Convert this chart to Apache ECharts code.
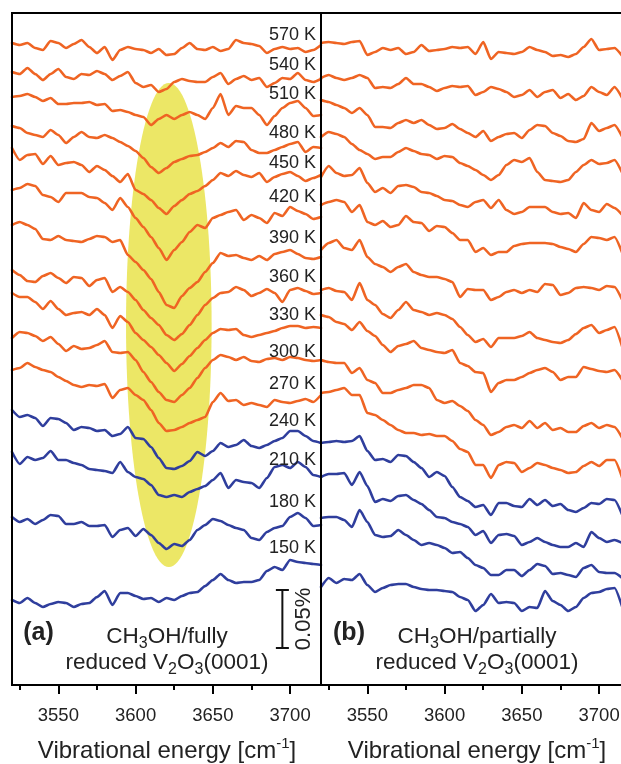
<!DOCTYPE html>
<html>
<head>
<meta charset="utf-8">
<script src="https://cdn.jsdelivr.net/npm/echarts@6/dist/echarts.min.js"></script>
<style>html,body{margin:0;padding:0;background:#fff}#c{width:621px;height:764px}</style>
</head>
<body>
<div id="c"></div>
<script>
// ---------- DATA ----------
// wavenumber sampling (cm^-1)
const wavenumbers = [3520,3525,3530,3535,3540,3545,3550,3555,3560,3565,3570,3575,3580,3585,3590,3595,3600,3605,3610,3615,3620,3625,3630,3635,3640,3645,3650,3655,3660,3665,3670,3675,3680,3685,3690,3695,3700,3705,3710,3715,3720];
const temperatures = ['570 K','540 K','510 K','480 K','450 K','420 K','390 K','360 K','330 K','300 K','270 K','240 K','210 K','180 K','150 K'];
const tempValues = [570,540,510,480,450,420,390,360,330,300,270,240,210,180,150];
// tick labels
const tickLabels = [3550,3600,3650,3700];

// panel (a): CH3OH / fully reduced V2O3(0001) – stacked signal (a.u., 58 a.u. = 0.05 %)
const a570 = [642,640,642,637,635,644,642,637,641,645,638,632,638,625,635,638,636,635,632,636,630,631,637,642,636,635,638,634,636,645,642,641,639,632,636,638,636,637,633,635,640];
const a540 = [613,611,617,611,605,611,616,608,606,611,610,614,611,605,609,613,602,598,600,593,596,603,606,604,603,603,608,612,601,606,609,605,607,598,602,607,606,612,605,603,606];
const a510 = [588,589,591,588,584,587,581,581,582,582,583,580,581,574,575,573,570,568,560,566,570,566,570,573,570,566,577,591,570,579,577,577,570,560,569,577,582,584,577,569,570];
const a480 = [559,557,552,550,548,555,550,542,548,553,548,547,550,547,543,539,534,527,518,512,517,523,526,529,530,533,537,542,538,544,543,535,532,532,535,538,541,543,533,538,537];
const a450 = [537,525,530,531,521,529,520,522,523,520,513,519,515,509,503,511,495,491,485,477,471,479,485,491,494,499,505,512,509,514,510,508,512,503,508,511,513,509,504,507,510];
const a420 = [495,497,501,499,490,488,483,492,492,492,488,487,482,475,487,478,467,458,448,437,425,435,443,453,460,457,467,470,473,475,465,470,467,462,472,469,478,474,471,466,468];
const a390 = [460,463,460,456,446,445,449,445,444,443,446,449,448,443,445,430,423,415,406,393,380,377,389,397,403,413,422,432,429,430,427,425,429,425,431,433,435,431,427,426,428];
const a360 = [415,410,404,403,409,412,407,402,408,407,399,405,407,393,398,393,385,375,367,360,350,345,351,360,370,380,387,392,393,398,395,389,392,396,392,383,395,397,394,391,392];
const a330 = [392,388,388,383,376,384,376,370,372,373,370,376,370,357,369,363,352,345,338,330,322,314,321,329,337,345,352,356,355,356,350,348,350,352,354,357,359,359,357,358,357];
const a300 = [347,353,352,349,344,348,341,334,339,336,337,340,344,333,332,333,325,313,303,293,285,283,290,297,307,317,325,330,328,325,328,324,323,326,327,325,328,327,325,324,325];
const a270 = [315,317,322,318,315,313,308,304,300,298,300,299,301,287,295,297,290,285,275,262,254,255,258,262,265,268,283,292,284,285,280,282,280,278,285,283,282,284,286,283,290];
const a240 = [275,268,270,267,259,267,266,262,255,258,257,254,255,249,251,258,247,246,238,227,217,216,219,224,233,229,234,242,238,240,245,239,237,240,244,247,254,254,249,244,242];
const a210 = [233,221,228,225,227,234,225,225,222,220,216,215,214,212,223,213,208,206,200,190,188,190,188,193,196,199,205,212,197,205,203,202,197,207,218,220,217,223,218,210,208];
const a180 = [168,163,166,161,165,170,169,161,161,163,159,159,160,148,155,157,149,156,150,142,136,141,139,145,155,160,166,164,160,157,155,147,145,153,157,159,168,172,167,159,160];
const a150 = [85,82,87,82,78,81,83,82,78,81,82,88,94,80,92,92,89,86,87,83,87,85,89,92,93,99,105,111,105,102,103,103,105,114,118,115,125,123,122,121,120];

// panel (b): CH3OH / partially reduced V2O3(0001)
const b570 = [642,643,642,641,643,644,630,633,637,635,637,631,633,640,634,635,636,638,637,638,631,643,626,633,632,631,633,638,635,633,629,630,628,631,638,646,635,636,637,629];
const b540 = [607,610,607,605,607,610,607,597,598,597,601,607,601,601,598,594,597,599,598,599,590,593,598,596,593,588,590,595,588,593,595,587,591,585,589,598,593,590,598,587];
const b510 = [585,583,580,577,572,577,570,558,558,557,562,565,562,565,560,556,557,561,556,552,548,554,544,548,551,552,547,555,560,559,552,549,544,543,546,562,554,557,560,548];
const b480 = [548,553,551,548,541,535,531,526,528,528,533,537,534,531,530,526,529,528,522,519,515,510,505,510,520,525,523,527,513,505,504,503,505,513,520,525,521,522,525,512];
const b450 = [508,519,512,509,510,517,502,493,497,492,499,500,498,493,492,489,485,484,480,478,483,485,477,485,475,471,473,478,478,478,473,471,472,467,482,475,473,481,477,470];
const b420 = [480,483,485,483,473,480,463,460,464,458,460,469,463,462,454,459,458,452,445,445,433,437,430,433,433,439,441,442,442,442,441,438,436,433,441,448,447,445,448,432];
const b390 = [435,442,445,437,435,445,428,421,418,413,418,421,413,410,408,408,406,403,388,396,395,395,385,388,393,395,392,395,393,401,400,390,392,397,398,397,395,399,398,385];
const b360 = [395,397,394,393,385,402,385,380,371,367,375,383,375,373,370,372,370,366,358,350,343,346,338,347,347,347,349,353,347,345,343,342,345,351,357,360,352,355,358,338];
const b330 = [370,368,363,361,355,363,354,349,340,333,339,341,344,337,335,333,332,335,322,319,313,312,293,302,305,305,308,312,315,317,313,305,308,308,318,316,314,313,315,305];
const b300 = [325,323,322,322,312,317,305,302,292,292,295,297,300,300,297,285,282,284,279,274,265,260,250,253,258,260,257,264,257,262,255,257,253,253,259,262,257,260,258,247];
const b270 = [292,293,295,297,290,290,272,270,265,260,255,252,252,250,251,249,249,244,236,233,220,220,207,220,223,222,213,217,222,220,217,215,212,213,219,223,219,225,225,207];
const b240 = [242,243,244,243,244,249,234,225,226,223,230,229,223,217,208,213,209,198,188,184,178,180,170,182,182,179,178,186,180,185,179,181,175,173,177,182,181,186,185,170];
const b210 = [208,211,211,212,200,213,199,183,186,184,189,190,185,181,175,168,167,163,161,158,150,154,142,150,151,149,140,143,147,143,140,138,138,142,138,153,147,143,145,142];
const b180 = [167,168,168,165,158,175,163,150,148,149,155,150,145,140,142,140,137,132,133,127,120,117,110,110,115,115,109,115,121,119,111,112,110,108,117,120,113,112,112,107];
const b150 = [98,107,102,106,105,111,100,93,97,100,101,101,98,96,95,95,94,93,88,85,74,80,91,82,83,82,74,78,77,94,84,80,74,78,87,92,93,96,97,78];

// highlighted band (panel a): centre [cm^-1, a.u.] and half-axes
const bandCenter = [3621.5, 360];
const bandHalfAxes = [27.7, 242];
// scale bar: 0.05 % = 58 a.u.
const scaleBar = [3695, 37, 95];

// ---------- CHART ----------
const FONT = '"Liberation Sans", Arial, Helvetica, sans-serif';
const ORANGE = '#EF6423';
const BLUE = '#2F3E9D';
const TXT = '#222';
const PX = 309 / 200; // px per cm^-1

const seriesA = [a570,a540,a510,a480,a450,a420,a390,a360,a330,a300,a270,a240,a210,a180,a150];
const seriesB = [b570,b540,b510,b480,b450,b420,b390,b360,b330,b300,b270,b240,b210,b180,b150];

function lineSeries(arr, idx, gi) {
  return {
    type: 'line', xAxisIndex: gi, yAxisIndex: gi, z: 3,
    name: temperatures[idx],
    data: arr.map((v, i) => [wavenumbers[i], v]),
    showSymbol: false, symbol: 'none', silent: true, smooth: 0.2, smoothMonotone: 'x',
    lineStyle: { width: 2.6, color: tempValues[idx] >= 270 ? ORANGE : BLUE, join: 'round', cap: 'round' },
    itemStyle: { color: tempValues[idx] >= 270 ? ORANGE : BLUE }
  };
}

const series = [];
series.push({
  type: 'custom', xAxisIndex: 0, yAxisIndex: 0, z: 1, silent: true,
  data: [[bandCenter[0], bandCenter[1], bandHalfAxes[0], bandHalfAxes[1]]],
  encode: { x: 0, y: 1 },
  renderItem: function (params, api) {
    const c = api.coord([api.value(0), api.value(1)]);
    const e = api.coord([api.value(0) + api.value(2), api.value(1) + api.value(3)]);
    const rx = Math.abs(e[0] - c[0]), ry = Math.abs(e[1] - c[1]);
    const pts = [];
    for (let i = 0; i < 120; i++) {
      const t = i / 120 * Math.PI * 2;
      pts.push([c[0] + rx * Math.cos(t), c[1] + ry * Math.sin(t)]);
    }
    return { type: 'polygon', shape: { points: pts }, style: { fill: '#ECE766', stroke: null } };
  }
});
seriesA.forEach((arr, i) => series.push(lineSeries(arr, i, 0)));
seriesB.forEach((arr, i) => series.push(lineSeries(arr, i, 1)));
series.push({
  type: 'custom', xAxisIndex: 0, yAxisIndex: 0, z: 4, silent: true,
  data: [scaleBar], encode: { x: 0, y: [1, 2] },
  renderItem: function (params, api) {
    const p1 = api.coord([api.value(0), api.value(1)]);
    const p2 = api.coord([api.value(0), api.value(2)]);
    const st = { stroke: '#111', lineWidth: 2 };
    return { type: 'group', children: [
      { type: 'line', shape: { x1: p1[0], y1: p1[1], x2: p2[0], y2: p2[1] }, style: st },
      { type: 'line', shape: { x1: p1[0] - 6.5, y1: p1[1], x2: p1[0] + 6.5, y2: p1[1] }, style: st },
      { type: 'line', shape: { x1: p2[0] - 6.5, y1: p2[1], x2: p2[0] + 6.5, y2: p2[1] }, style: st }
    ]};
  }
});

function xAxis(gi) {
  return {
    gridIndex: gi, type: 'value', min: 3500, max: 3750, interval: 50,
    axisLine: { show: false, onZero: false },
    axisTick: { show: true, inside: false, length: 9, lineStyle: { color: '#000', width: 2 } },
    minorTick: { show: true, splitNumber: 2, length: 5, lineStyle: { color: '#000', width: 2 } },
    splitLine: { show: false }, minorSplitLine: { show: false },
    axisLabel: {
      show: true, margin: 21, fontSize: 18.5, color: TXT, fontFamily: FONT,
      showMinLabel: true, showMaxLabel: true,
      formatter: v => (tickLabels.indexOf(Math.round(v)) >= 0 ? String(Math.round(v)) : '')
    }
  };
}
function yAxis(gi) {
  return { gridIndex: gi, type: 'value', min: 0, max: 672, show: false, splitLine: { show: false } };
}

const graphic = [];
const lineStyle = { stroke: '#000', lineWidth: 2 };
graphic.push({ type: 'line', z: 100, shape: { x1: 11, y1: 13, x2: 621, y2: 13 }, style: lineStyle });
graphic.push({ type: 'line', z: 100, shape: { x1: 11, y1: 685, x2: 621, y2: 685 }, style: lineStyle });
graphic.push({ type: 'line', z: 100, shape: { x1: 12, y1: 12, x2: 12, y2: 686 }, style: lineStyle });
graphic.push({ type: 'line', z: 100, shape: { x1: 321, y1: 12, x2: 321, y2: 686 }, style: lineStyle });

const labelY = [35, 65, 94, 133, 163, 197, 238, 277, 315, 352, 384, 421, 460, 502, 548];
temperatures.forEach((t, i) => {
  graphic.push({ type: 'text', z: 100, x: 316, y: labelY[i],
    style: { text: t, fill: TXT, font: '18px ' + FONT, align: 'right', verticalAlign: 'middle', textAlign: 'right', textVerticalAlign: 'middle' } });
});

function rich(fs) {
  return {
    n: { fontSize: fs, fontFamily: FONT, fill: TXT, color: TXT, lineHeight: fs + 6 },
    s: { fontSize: Math.round(fs * 0.72), fontFamily: FONT, fill: TXT, color: TXT, verticalAlign: 'bottom', lineHeight: fs + 6 },
    p: { fontSize: Math.round(fs * 0.62), fontFamily: FONT, fill: TXT, color: TXT, verticalAlign: 'top', lineHeight: fs + 6 },
    b: { fontSize: fs, fontFamily: FONT, fontWeight: 'bold', fill: TXT, color: TXT, lineHeight: fs + 6 }
  };
}
function txt(x, y, text, fs, rot) {
  const el = { type: 'text', z: 100, x: x, y: y,
    style: { text: text, fill: TXT, font: fs + 'px ' + FONT, align: 'center', verticalAlign: 'middle', textAlign: 'center', textVerticalAlign: 'middle', rich: rich(fs) } };
  if (rot) el.rotation = rot;
  return el;
}
graphic.push(txt(38.5, 633, '{b|(a)}', 25));
graphic.push(txt(349, 633, '{b|(b)}', 25));
graphic.push(txt(167, 637, '{n|CH}{s|3}{n|OH/fully}', 22.5));
graphic.push(txt(477, 637, '{n|CH}{s|3}{n|OH/partially}', 22.5));
graphic.push(txt(167, 663, '{n|reduced V}{s|2}{n|O}{s|3}{n|(0001)}', 22.5));
graphic.push(txt(477, 663, '{n|reduced V}{s|2}{n|O}{s|3}{n|(0001)}', 22.5));
graphic.push(txt(304, 619, '{n|0.05%}', 22, Math.PI / 2));
graphic.push(txt(167, 751, '{n|Vibrational energy [cm}{p|-1}{n|]}', 24));
graphic.push(txt(477, 751, '{n|Vibrational energy [cm}{p|-1}{n|]}', 24));

const chart = echarts.init(document.getElementById('c'), null, { renderer: 'canvas' });
chart.setOption({
  animation: false,
  backgroundColor: '#fff',
  textStyle: { fontFamily: FONT },
  grid: [
    { left: 12 - 20 * PX, top: 13, width: 250 * PX, height: 672, containLabel: false, outerBoundsMode: 'none' },
    { left: 321 - 20 * PX, top: 13, width: 250 * PX, height: 672, containLabel: false, outerBoundsMode: 'none' }
  ],
  xAxis: [xAxis(0), xAxis(1)],
  yAxis: [yAxis(0), yAxis(1)],
  series: series,
  graphic: graphic
});
</script>
</body>
</html>
